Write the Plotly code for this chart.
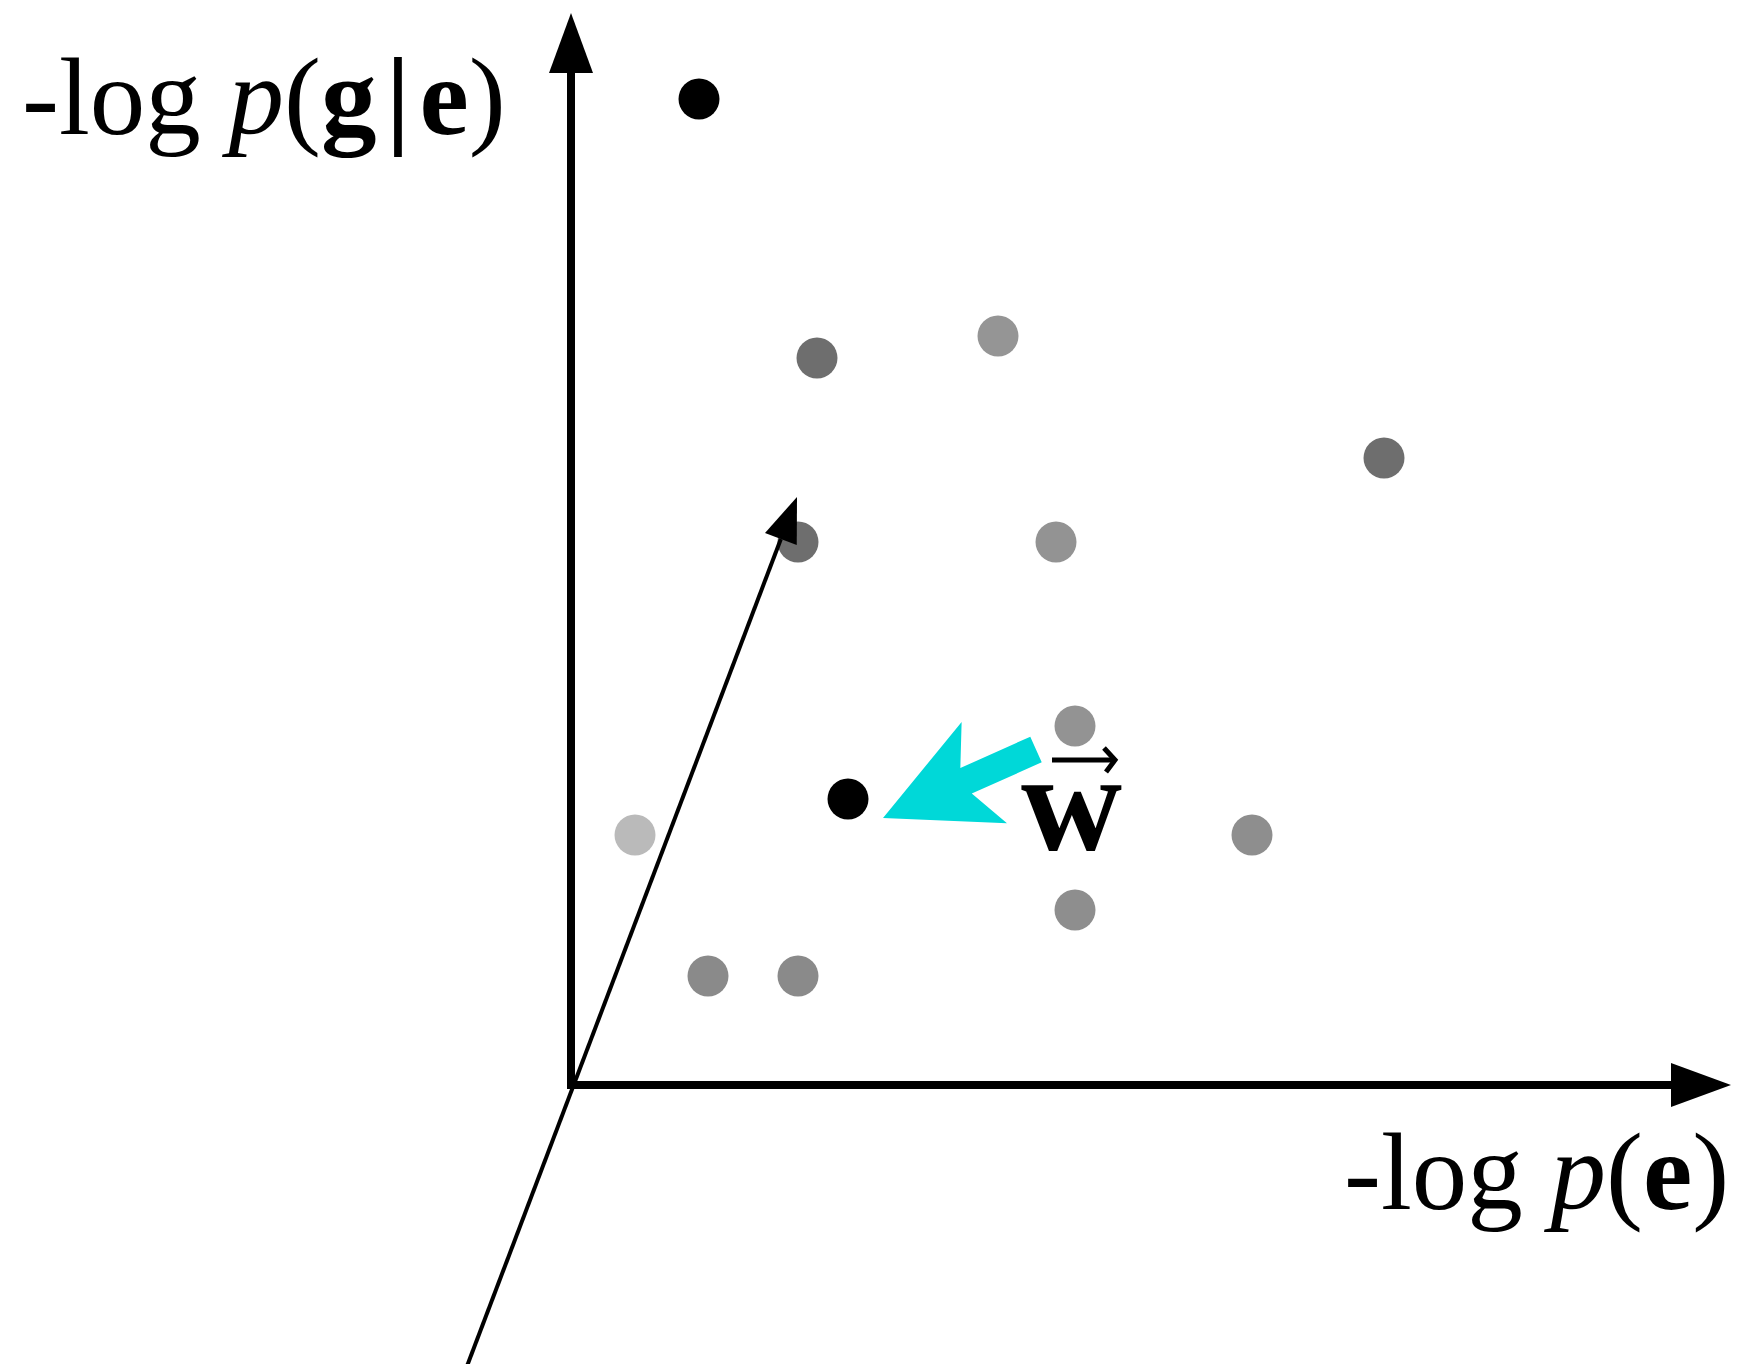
import numpy as np
import plotly.graph_objects as go

# Page geometry: one data unit spans 100 px on both axes, origin of the cost space at (571, 1085) px
W, H = 1738, 1364
PX_PER_UNIT = 100.0
ORIGIN_PX = (571.0, 1085.0)

# Candidate translations: -log p(e) and -log p(g|e) costs, with a grey level per candidate
neg_log_p_e = [1.28, 2.46, 4.27, 8.13, 2.27, 4.85, 5.04, 2.77, 0.64, 6.81, 5.04, 1.37, 2.27]
neg_log_p_g_given_e = [9.86, 7.27, 7.49, 6.27, 5.43, 5.43, 3.59, 2.86, 2.50, 2.50, 1.75, 1.09, 1.09]
shade = ["#000000", "#6e6e6e", "#959595", "#6e6e6e", "#6e6e6e", "#939393", "#939393",
         "#000000", "#bababa", "#8e8e8e", "#8e8e8e", "#8a8a8a", "#8a8a8a"]

# Axis ends (data units) and the oblique third axis
x_axis_end = 11.60
y_axis_end = 10.72
third_axis_start = (-1.07, -2.79)
third_axis_end = (2.26, 5.88)

# Weight-vector arrow (cyan) and its label
w_arrow_tail = (4.65, 3.355)
w_arrow_tip = (3.12, 2.67)
w_label_pos = (5.00, 2.83)

x_range = [-ORIGIN_PX[0] / PX_PER_UNIT, (W - ORIGIN_PX[0]) / PX_PER_UNIT]
y_range = [(ORIGIN_PX[1] - H) / PX_PER_UNIT, ORIGIN_PX[1] / PX_PER_UNIT]


def path_from(points, close=True):
    s = "M " + " L ".join(f"{x:.4f},{y:.4f}" for x, y in points)
    return s + (" Z" if close else "")


def arrow_head(tip, direction, length, half_width):
    d = np.asarray(direction, float)
    d = d / np.linalg.norm(d)
    n = np.array([-d[1], d[0]])
    t = np.asarray(tip, float)
    base = t - d * length
    return [tuple(t), tuple(base + n * half_width), tuple(base - n * half_width)], tuple(base)


def block_arrow(tail, tip, shaft_half, head_inner, head_back, head_half):
    t = np.asarray(tip, float)
    u = np.asarray(tail, float) - t
    L = np.linalg.norm(u)
    u = u / L
    n = np.array([-u[1], u[0]])
    pts = [t,
           t + u * head_back + n * head_half,
           t + u * head_inner + n * shaft_half,
           t + u * L + n * shaft_half,
           t + u * L - n * shaft_half,
           t + u * head_inner - n * shaft_half,
           t + u * head_back - n * head_half]
    return [tuple(p) for p in pts]


fig = go.Figure()
fig.add_trace(go.Scatter(
    x=neg_log_p_e, y=neg_log_p_g_given_e, mode="markers",
    marker=dict(size=41, color=shade, line=dict(width=0)),
    hoverinfo="skip", showlegend=False,
))

shapes = []
AXIS_W = 8
HEAD_LEN, HEAD_HALF = 0.60, 0.22

# vertical axis
head, base = arrow_head((0, y_axis_end), (0, 1), HEAD_LEN, HEAD_HALF)
shapes.append(dict(type="line", x0=0, y0=-0.04, x1=0, y1=base[1] + 0.05,
                   line=dict(color="black", width=AXIS_W), layer="above"))
shapes.append(dict(type="path", path=path_from(head), fillcolor="black",
                   line=dict(width=0), layer="above"))

# horizontal axis
head, base = arrow_head((x_axis_end, 0), (1, 0), HEAD_LEN, HEAD_HALF)
shapes.append(dict(type="line", x0=-0.04, y0=0, x1=base[0] + 0.05, y1=0,
                   line=dict(color="black", width=AXIS_W), layer="above"))
shapes.append(dict(type="path", path=path_from(head), fillcolor="black",
                   line=dict(width=0), layer="above"))

# oblique axis
direction = (third_axis_end[0] - third_axis_start[0], third_axis_end[1] - third_axis_start[1])
head, base = arrow_head(third_axis_end, direction, 0.45, 0.17)
shapes.append(dict(type="line", x0=third_axis_start[0], y0=third_axis_start[1] - 0.1,
                   x1=base[0], y1=base[1],
                   line=dict(color="black", width=4), layer="above"))
shapes.append(dict(type="path", path=path_from(head), fillcolor="black",
                   line=dict(width=0), layer="above"))

# cyan block arrow pointing at the selected candidate
shapes.append(dict(type="path",
                   path=path_from(block_arrow(w_arrow_tail, w_arrow_tip, 0.14, 0.91, 1.11, 0.555)),
                   fillcolor="#00d8d8", line=dict(width=0), layer="above"))

# small vector arrow above the w label
vx, vy = w_label_pos[0] + 0.13, w_label_pos[1] + 0.42
shapes.append(dict(type="line", x0=vx - 0.32, y0=vy, x1=vx + 0.30, y1=vy,
                   line=dict(color="black", width=5), layer="above"))
shapes.append(dict(type="path",
                   path=path_from([(vx + 0.20, vy + 0.12), (vx + 0.31, vy), (vx + 0.22, vy - 0.12)], close=False),
                   fillcolor="rgba(0,0,0,0)", line=dict(color="black", width=5), layer="above"))

SERIF = "Liberation Serif, Times New Roman, serif"
annotations = [
    dict(x=-5.51, y=9.89, xref="x", yref="y", xanchor="left", yanchor="middle",
         text="-log <i>p</i>(<b>g</b>\u200a<b>|</b>\u200a<b>e</b>)", showarrow=False,
         font=dict(family=SERIF, size=111, color="black")),
    dict(x=11.60, y=-0.86, xref="x", yref="y", xanchor="right", yanchor="middle",
         text="-log <i>p</i>(<b>e</b>)", showarrow=False,
         font=dict(family=SERIF, size=111, color="black")),
    dict(x=w_label_pos[0], y=w_label_pos[1], xref="x", yref="y", xanchor="center", yanchor="middle",
         text="<b>w</b>", showarrow=False,
         font=dict(family=SERIF, size=140, color="black")),
]

fig.update_layout(
    width=W, height=H, autosize=False,
    margin=dict(l=0, r=0, t=0, b=0, pad=0),
    paper_bgcolor="white", plot_bgcolor="white",
    xaxis=dict(range=x_range, visible=False, fixedrange=True),
    yaxis=dict(range=y_range, visible=False, fixedrange=True),
    shapes=shapes, annotations=annotations,
    showlegend=False,
)

fig.write_html("out.html", config={"displayModeBar": False})
